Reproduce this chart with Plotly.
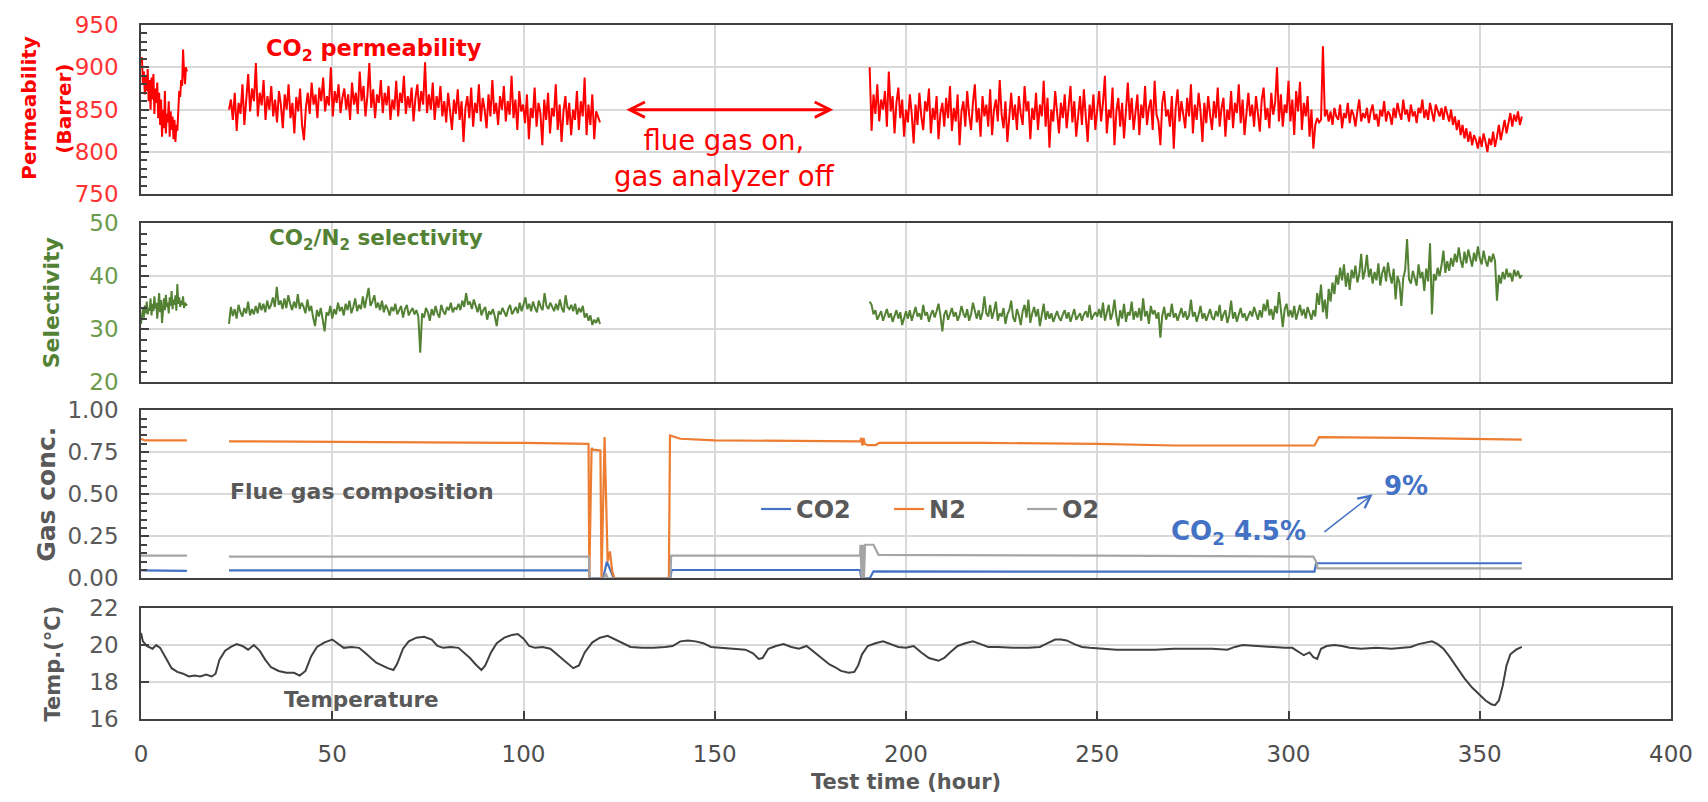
import numpy as np
import plotly.graph_objects as go

# ---------------- data ----------------
# CO2 permeability (Barrer), three measured segments (start h, end h, values)
perm_a_span = (0.0, 12.0)
perm_a = [905, 912, 880, 895, 868, 890, 872, 898, 860, 885, 850, 888, 862, 892, 845, 875, 858, 882,
          840, 870, 832, 862, 818, 850, 828, 872, 822, 845, 835, 860, 818, 848, 826, 842, 815, 838,
          812, 832, 825, 858, 872, 865, 885, 878, 921, 895, 880, 900, 895]
perm_b_span = (23.0, 120.0)
perm_b = [850, 862, 838, 870, 825, 858, 845, 880, 832, 868, 892, 848, 875, 860, 905, 842, 870, 855, 885, 838,
          866, 850, 878, 842, 862, 835, 872, 856, 828, 868, 850, 880, 840, 858, 822, 865, 848, 875, 832, 814,
          852, 870, 845, 882, 856, 868, 840, 876, 860, 888, 848, 866, 855, 900, 842, 872, 858, 880, 846, 864,
          875, 850, 868, 838, 882, 856, 870, 845, 895, 860, 878, 842, 866, 905, 852, 874, 840, 868, 858, 885,
          846, 870, 855, 878, 838, 862, 850, 884, 842, 870, 858, 890, 845, 866, 852, 876, 836, 864, 880, 848,
          872, 856, 906, 846, 868, 850, 882, 838, 866, 852, 878, 842, 860, 835, 870, 848, 826, 862, 845, 874,
          838, 860, 812, 852, 866, 840, 876, 830, 858, 846, 880, 836, 864, 850, 828, 868, 842, 885, 845, 858,
          832, 866, 850, 878, 836, 860, 844, 890, 840, 862, 826, 872, 848, 856, 834, 868, 815, 852, 840, 876,
          830, 858, 846, 808, 862, 838, 870, 822, 852, 842, 880, 826, 856, 812, 848, 866, 832, 858, 820, 850,
          838, 872, 826, 860, 842, 888, 820, 856, 832, 868, 815, 848, 840, 835]
perm_c_span = (190.5, 361.0)
perm_c = [900, 825, 868, 845, 880, 836, 862, 850, 872, 830, 895, 848, 866, 822, 858, 876, 840, 862, 818, 850,
          835, 868, 845, 810, 856, 832, 870, 842, 826, 860, 848, 875, 822, 852, 838, 866, 815, 846, 858, 830,
          864, 840, 878, 825, 852, 836, 868, 808, 848, 860, 830, 872, 844, 826, 858, 880, 835, 852, 818, 866,
          842, 856, 830, 874, 820, 850, 862, 836, 885, 844, 828, 860, 812, 848, 870, 838, 856, 826, 866, 845,
          832, 878, 848, 860, 815, 852, 838, 870, 826, 856, 842, 884, 830, 864, 805, 850, 836, 872, 846, 822,
          858, 840, 868, 828, 852, 878, 835, 860, 818, 846, 866, 832, 874, 842, 812, 856, 838, 868, 826, 850,
          872, 836, 858, 890, 822, 850, 840, 876, 808, 848, 864, 830, 858, 816, 852, 882, 838, 864, 826, 846,
          868, 820, 856, 840, 878, 832, 852, 862, 826, 884, 844, 836, 808, 858, 872, 842, 850, 830, 866, 804,
          852, 874, 836, 860, 846, 828, 864, 842, 880, 822, 856, 838, 870, 848, 812, 858, 834, 866, 844, 826,
          860, 840, 876, 830, 852, 864, 818, 850, 838, 872, 828, 858, 846, 880, 834, 862, 820, 850, 870, 842,
          856, 830, 866, 846, 824, 862, 876, 838, 852, 828, 870, 844, 858, 900, 836, 868, 830, 856, 846, 884,
          836, 862, 820, 872, 848, 883, 826, 858, 842, 866, 818, 850, 804, 832, 840, 835, 838, 925, 842, 850,
          836, 848, 832, 852, 842, 838, 856, 828, 846, 840, 858, 834, 850, 844, 830, 848, 862, 836, 846, 840,
          852, 834, 848, 856, 838, 845, 830, 850, 842, 860, 836, 848, 844, 832, 852, 840, 858, 846, 838, 862,
          844, 850, 836, 856, 842, 848, 834, 852, 846, 862, 840, 850, 838, 858, 846, 836, 856, 848, 842, 852,
          838, 854, 846, 836, 850, 832, 842, 826, 838, 820, 832, 816, 828, 812, 824, 808, 820, 814, 804, 818,
          806, 822, 812, 800, 816, 808, 824, 806, 818, 832, 814, 828, 838, 822, 836, 846, 830, 844, 836, 848,
          832, 842]

# CO2/N2 selectivity
sel_a_span = (0.0, 12.0)
sel_a = [31.0, 32.5, 33.8, 32.2, 34.5, 33.0, 35.2, 32.8, 34.0, 33.5, 35.8, 32.6, 34.8, 33.4, 36.2, 33.9,
         35.0, 32.0, 34.6, 36.8, 33.2, 35.5, 31.2, 34.0, 35.8, 33.6, 36.5, 34.2, 35.0, 33.0, 36.0, 34.4,
         37.2, 33.8, 35.6, 34.6, 36.4, 33.5, 38.5, 34.8, 36.0, 34.2, 35.4, 34.6, 36.2, 34.0, 35.0, 34.5, 34.8]
sel_b_span = (23.0, 120.0)
sel_b = [31.0, 34.2, 32.5, 33.8, 32.0, 34.6, 33.2, 32.4, 34.0, 33.0, 35.2, 32.6, 33.8, 32.8, 34.4, 33.0, 35.0, 33.6, 34.8, 33.2,
         35.4, 33.8, 34.6, 36.0, 34.2, 38.0, 34.6, 35.4, 33.8, 35.8, 34.0, 36.4, 34.8, 33.6, 35.2, 34.0, 36.6, 33.8, 35.0, 34.2,
         33.0, 35.6, 33.4, 34.4, 32.2, 30.6, 33.6, 32.4, 34.0, 31.8, 29.6, 33.2, 32.6, 34.4, 32.0, 33.8, 32.8, 35.0, 33.4, 34.2,
         32.6, 34.8, 33.6, 35.4, 33.0, 34.2, 35.8, 33.4, 34.6, 33.8, 36.2, 34.0, 35.6, 37.8, 34.4, 35.2, 36.4, 34.0, 35.0, 33.6,
         35.4, 33.2, 34.6, 33.8, 32.6, 34.2, 33.4, 34.8, 32.8, 33.6, 34.4, 32.2, 33.8, 34.6, 32.6, 33.4, 34.0, 32.8, 33.6, 32.4,
         25.6, 33.0, 32.2, 34.0, 33.2, 31.6, 33.8, 32.6, 34.4, 33.0, 32.2, 34.6, 33.4, 32.8, 34.2, 33.6, 35.0, 33.2, 34.0, 33.8,
         34.8, 33.6, 35.4, 34.2, 36.8, 34.6, 35.2, 33.8, 35.6, 34.4, 33.2, 34.8, 32.6, 33.6, 34.2, 31.8, 33.4, 32.8, 33.8, 32.4,
         30.6, 33.4, 32.8, 34.0, 33.2, 32.4, 33.8, 34.6, 32.8, 33.6, 34.2, 33.0, 35.0, 33.4, 34.6, 36.0, 33.8, 34.8, 33.4, 35.2,
         34.0, 33.2, 35.4, 34.2, 33.6, 36.8, 34.4, 33.8, 35.0, 34.2, 33.4, 34.8, 33.6, 35.6, 34.0, 33.2, 36.4, 34.2, 33.8, 34.6,
         33.4, 34.8, 32.8, 34.0, 33.2, 34.4, 32.2, 33.0, 31.6, 32.6, 30.8, 31.8, 31.2, 32.2, 31.0]
sel_c_span = (190.5, 361.0)
sel_c = [35.2, 34.6, 32.8, 33.6, 31.8, 32.6, 33.4, 31.6, 32.9, 33.8, 32.2, 33.0, 31.4, 32.6, 33.6, 32.0, 33.2, 30.8, 32.4, 33.4,
         32.0, 33.6, 31.6, 32.8, 34.2, 32.4, 33.0, 31.8, 34.6, 32.6, 33.2, 31.4, 32.8, 33.6, 32.2, 33.4, 34.8, 32.6, 29.6, 32.8,
         33.6, 31.8, 32.8, 34.0, 32.4, 33.2, 31.6, 32.6, 34.4, 33.0, 32.2, 33.8, 31.6, 32.8, 35.0, 33.2, 32.0, 33.6, 31.8, 33.2,
         36.2, 33.0, 32.4, 34.6, 32.0, 33.4, 35.2, 31.6, 33.0, 32.4, 34.0, 31.0, 32.8, 33.6, 35.4, 32.2, 31.4, 33.8, 32.6, 30.8,
         33.4, 34.6, 32.2, 35.6, 31.2, 33.0, 34.2, 32.4, 33.8, 30.6, 32.6, 34.8, 31.8, 33.4, 32.0, 33.0, 31.4, 32.6, 33.4, 32.2,
         31.6, 32.8, 33.6, 32.0, 33.2, 31.4, 32.6, 33.8, 31.8, 32.4, 33.0, 31.6, 32.8, 33.4, 32.2, 34.6, 31.8, 32.6, 33.2, 32.4,
         33.8, 32.2, 35.0, 31.6, 33.2, 34.6, 31.8, 33.0, 35.6, 32.4, 30.6, 33.6, 32.0, 34.8, 31.4, 33.2, 32.6, 35.2, 31.8, 33.4,
         32.2, 34.0, 31.6, 35.8, 32.4, 33.4, 31.0, 34.4, 32.8, 33.6, 32.0, 33.2, 28.4, 32.6, 34.2, 31.8, 33.0, 32.4, 34.8, 32.2,
         33.0, 31.6, 32.8, 34.0, 32.2, 33.4, 31.8, 32.6, 35.6, 32.4, 33.2, 31.4, 32.8, 34.4, 32.0, 33.0, 31.6, 32.6, 33.8, 32.2,
         31.8, 33.4, 32.4, 34.6, 31.6, 32.8, 33.6, 31.2, 32.6, 35.4, 32.0, 33.2, 31.4, 32.8, 34.0, 32.2, 33.0, 31.6, 32.6, 33.4,
         32.4, 34.2, 33.0, 31.8, 33.6, 32.2, 34.8, 33.4, 35.6, 32.6, 33.8, 31.8, 34.4, 33.0, 37.0, 33.6, 30.4, 33.8, 34.8, 32.4,
         33.6, 32.2, 34.4, 31.8, 33.2, 34.6, 32.6, 33.8, 32.0, 34.2, 33.0, 31.8, 33.6, 32.4, 36.8, 34.6, 38.4, 33.2, 35.6, 32.0,
         37.6, 35.2, 38.8, 36.6, 40.2, 38.4, 41.6, 39.2, 42.2, 38.0, 40.6, 37.4, 41.2, 39.6, 42.0, 38.8, 40.4, 44.2, 39.4, 41.0,
         44.0, 39.8, 41.4, 38.6, 40.8, 39.2, 42.4, 38.2, 40.6, 41.8, 39.0, 42.6, 40.2, 38.6, 41.4, 35.6, 40.0, 38.8, 34.4, 39.6,
         41.2, 47.0, 39.4, 38.6, 41.0, 39.8, 38.2, 42.2, 39.6, 40.8, 37.2, 41.4, 39.0, 46.2, 32.8, 40.4, 39.2, 41.6, 40.0, 42.0,
         44.8, 40.6, 42.8, 41.0, 43.4, 41.8, 44.2, 42.6, 45.4, 43.0, 41.6, 44.6, 42.4, 45.0, 43.2, 41.8, 44.4, 42.8, 45.6, 43.4,
         42.2, 44.8, 43.0, 41.8, 43.8, 42.6, 44.2, 42.8, 35.4, 40.2, 38.6, 40.8, 39.4, 41.4, 39.8, 40.6, 39.0, 41.2, 40.0, 41.0,
         39.6, 40.2]

# Flue gas composition (mole fraction); None = analyzer gap
co2_time = [0, 12, None, 23, 117.1, 117.3, 120.8, 121.8, 122.6, 123.6, 138.4, 138.7,
            188.0, 188.3, 190.5, 191.5, 250, 306.8, 307.2, 361]
co2_conc = [0.048, 0.045, None, 0.048, 0.048, 0.0, 0.0, 0.10, 0.05, 0.0, 0.0, 0.05,
            0.05, 0.0, 0.0, 0.042, 0.04, 0.04, 0.09, 0.09]
n2_time = [0, 1, 12, None, 23, 60, 100, 117.0, 117.2, 117.8, 118.2, 120.1, 120.4, 121.2, 122.0,
           122.6, 123.2, 123.8, 138.0, 138.3, 141, 150, 188.0, 188.3, 188.6, 188.9, 189.2,
           190.0, 192.0, 193.0, 220, 250, 270, 306.8, 307.3, 308, 330, 361]
n2_conc = [0.83, 0.82, 0.82, None, 0.815, 0.812, 0.805, 0.80, 0.0, 0.775, 0.765, 0.76, 0.0, 0.84, 0.10,
           0.16, 0.04, 0.0, 0.0, 0.85, 0.83, 0.82, 0.815, 0.835, 0.79, 0.835, 0.80,
           0.792, 0.792, 0.805, 0.805, 0.80, 0.79, 0.79, 0.815, 0.84, 0.835, 0.825]
o2_time = [0, 12, None, 23, 117.1, 117.3, 121.0, 121.5, 122.0, 138.4, 138.6, 188.0, 188.1, 188.4,
           188.7, 189.0, 189.3, 191.5, 192.8, 250, 306.5, 307.2, 307.6, 361]
o2_conc = [0.135, 0.135, None, 0.13, 0.13, 0.0, 0.0, 0.03, 0.0, 0.0, 0.135, 0.135, 0.20, 0.0,
           0.20, 0.0, 0.20, 0.20, 0.14, 0.135, 0.13, 0.10, 0.06, 0.06]

# Temperature (deg C)
temp_time = [0, 0.5, 1.5, 3, 4, 5, 6.5, 8, 9.5, 11, 12.5, 14, 15.5, 17, 18.5, 19.5, 20.5, 22, 23.5, 25,
             26.5, 28, 29.5, 31, 32.5, 34, 36, 38, 40, 41.5, 43, 44.5, 46, 48, 50, 51.5, 53, 55, 57, 58.5,
             60, 61.5, 63, 64.5, 66, 67, 68.5, 70, 72, 74, 76, 77.5, 79, 81, 83, 84.5, 86, 87.5, 89, 90,
             91.5, 93, 95, 97, 98.5, 100, 101.5, 103, 105, 107, 108.5, 110, 111.5, 113, 114.5, 116, 118, 120, 122, 124,
             126, 128, 131, 134, 137, 139, 141, 143, 145, 147, 149, 152, 155, 158, 160, 161.5, 162.5, 164, 166, 168,
             170, 172, 174, 176, 178, 180, 181.5, 183, 185, 186.5, 187.5, 188.5, 190, 192, 194, 196, 198, 200, 202, 204,
             206, 208.5, 210, 211.5, 213.5, 215.5, 217.5, 219.5, 221.5, 224, 228, 232, 235, 237, 239, 240.5, 242, 244, 246, 248,
             251, 255, 260, 265, 270, 275, 280, 284, 286, 288, 291, 295, 299, 301, 302.5, 304, 305.5, 306.5, 307.5, 308.5,
             310, 312, 314, 316, 319, 323, 327, 330, 332, 334, 336, 337.5, 339, 340.5, 342, 344, 346, 348, 350, 351.5,
             353, 354, 355, 356, 357, 358, 359.5, 361]
temp_val = [20.65, 20.2, 19.95, 19.8, 20.0, 19.85, 19.3, 18.75, 18.55, 18.45, 18.3, 18.35, 18.3, 18.4, 18.3, 18.45, 19.2, 19.7, 19.9, 20.05,
            19.95, 19.75, 20.0, 19.7, 19.2, 18.8, 18.6, 18.5, 18.5, 18.35, 18.6, 19.4, 19.9, 20.15, 20.3, 20.05, 19.85, 19.9, 19.85, 19.6,
            19.35, 19.05, 18.9, 18.75, 18.65, 19.0, 19.8, 20.2, 20.4, 20.45, 20.3, 19.95, 19.85, 19.9, 19.85, 19.6, 19.3, 18.95, 18.65, 18.9,
            19.6, 20.1, 20.4, 20.55, 20.6, 20.35, 19.95, 19.85, 19.9, 19.8, 19.55, 19.25, 19.0, 18.75, 18.9, 19.6, 20.15, 20.4, 20.5, 20.3,
            20.1, 19.9, 19.85, 19.85, 19.9, 19.95, 20.2, 20.25, 20.2, 20.1, 19.9, 19.85, 19.8, 19.75, 19.55, 19.25, 19.3, 19.8, 19.95, 20.05,
            19.9, 19.8, 19.95, 19.6, 19.3, 18.95, 18.8, 18.6, 18.5, 18.55, 18.9, 19.5, 19.95, 20.1, 20.2, 20.05, 19.9, 19.85, 19.95, 19.6,
            19.3, 19.15, 19.3, 19.6, 19.95, 20.1, 20.2, 20.05, 19.9, 19.9, 19.85, 19.85, 19.9, 20.1, 20.3, 20.3, 20.25, 20.05, 19.9, 19.85,
            19.8, 19.75, 19.75, 19.75, 19.8, 19.8, 19.8, 19.75, 19.9, 20.0, 19.95, 19.9, 19.85, 19.85, 19.65, 19.45, 19.6, 19.35, 19.25, 19.8,
            19.95, 20.0, 19.95, 19.85, 19.8, 19.85, 19.8, 19.85, 19.9, 20.05, 20.15, 20.2, 20.05, 19.8, 19.4, 18.8, 18.2, 17.7, 17.3, 17.0,
            16.8, 16.75, 17.0, 17.8, 18.9, 19.5, 19.75, 19.9]

x_ticks = [0, 50, 100, 150, 200, 250, 300, 350, 400]


def join_segments(segments):
    xs, ys = [], []
    for (t0, t1), vals in segments:
        xs += list(np.linspace(t0, t1, len(vals)))
        ys += list(vals)
        xs.append(None)
        ys.append(None)
    return xs, ys


perm_x, perm_y = join_segments([(perm_a_span, perm_a), (perm_b_span, perm_b), (perm_c_span, perm_c)])
sel_x, sel_y = join_segments([(sel_a_span, sel_a), (sel_b_span, sel_b), (sel_c_span, sel_c)])

# ---------------- styles ----------------
FONT = "DejaVu Sans"
RED = "#FF0000"
GREEN = "#548235"
BLUE = "#4472C4"
ORANGE = "#ED7D31"
GRAY = "#A5A5A5"
DARK = "#595959"
GRID = "#D9D9D9"
FRAME = "#404040"

fig = go.Figure()
fig.add_trace(go.Scatter(x=perm_x, y=perm_y, mode="lines", line=dict(color=RED, width=2),
                         xaxis="x", yaxis="y", showlegend=False, name="CO2 permeability"))
fig.add_trace(go.Scatter(x=sel_x, y=sel_y, mode="lines", line=dict(color=GREEN, width=2),
                         xaxis="x2", yaxis="y2", showlegend=False, name="CO2/N2 selectivity"))
fig.add_trace(go.Scatter(x=co2_time, y=co2_conc, mode="lines", line=dict(color=BLUE, width=2.2),
                         xaxis="x3", yaxis="y3", name="CO2"))
fig.add_trace(go.Scatter(x=n2_time, y=n2_conc, mode="lines", line=dict(color=ORANGE, width=2.2),
                         xaxis="x3", yaxis="y3", name="N2"))
fig.add_trace(go.Scatter(x=o2_time, y=o2_conc, mode="lines", line=dict(color=GRAY, width=2.2),
                         xaxis="x3", yaxis="y3", name="O2"))
fig.add_trace(go.Scatter(x=temp_time, y=temp_val, mode="lines", line=dict(color=FRAME, width=2),
                         xaxis="x4", yaxis="y4", showlegend=False, name="Temperature"))

common_x = dict(range=[0, 400], tickvals=x_ticks, showgrid=True, gridcolor=GRID, gridwidth=1.5,
                showline=True, mirror=True, linecolor=FRAME, linewidth=1.5, zeroline=False)
common_y = dict(showgrid=True, gridcolor=GRID, gridwidth=1.5, showline=True, mirror=True,
                linecolor=FRAME, linewidth=1.5, zeroline=False, ticks="inside", ticklen=8,
                tickcolor=FRAME, tickwidth=1.5, ticklabelstandoff=16)

doms = {"y": [0.756, 1.0], "y2": [0.485, 0.7147], "y3": [0.2026, 0.445], "y4": [0.0, 0.1598]}

fig.update_layout(
    width=1708, height=802,
    margin=dict(l=141, r=37, t=19, b=82),
    paper_bgcolor="white", plot_bgcolor="white",
    font=dict(family=FONT, color=DARK),
    xaxis=dict(common_x, anchor="y", showticklabels=False),
    xaxis2=dict(common_x, anchor="y2", matches="x", showticklabels=False),
    xaxis3=dict(common_x, anchor="y3", matches="x", showticklabels=False),
    xaxis4=dict(common_x, anchor="y4", matches="x", ticks="inside", ticklen=8, tickcolor=FRAME,
                tickwidth=1.5, ticklabelstandoff=14,
                tickfont=dict(family=FONT, size=23, color="#4D4D4D"),
                title=dict(text="Test time (hour)", standoff=8,
                           font=dict(family=FONT, size=21, color=DARK, weight="bold"))),
    yaxis=dict(common_y, domain=doms["y"], anchor="x", range=[750, 950], dtick=50,
               minor=dict(ticks="inside", dtick=10, ticklen=6, tickcolor=FRAME, showgrid=False),
               tickfont=dict(family=FONT, size=23, color="#FF3333")),
    yaxis2=dict(common_y, domain=doms["y2"], anchor="x2", range=[20, 50], dtick=10,
                minor=dict(ticks="inside", dtick=2, ticklen=6, tickcolor=FRAME, showgrid=False),
                tickfont=dict(family=FONT, size=23, color="#6B9B4B"),
                title=dict(text="Selectivity", standoff=24,
                           font=dict(family=FONT, size=22, color=GREEN, weight="bold"))),
    yaxis3=dict(common_y, domain=doms["y3"], anchor="x3", range=[0, 1], dtick=0.25, tickformat=".2f",
                minor=dict(ticks="inside", dtick=0.05, ticklen=6, tickcolor=FRAME, showgrid=False),
                tickfont=dict(family=FONT, size=23, color=DARK),
                title=dict(text="Gas conc.", standoff=5,
                           font=dict(family=FONT, size=25, color=DARK, weight="bold"))),
    yaxis4=dict(common_y, domain=doms["y4"], anchor="x4", range=[16, 22], dtick=2,
                tickfont=dict(family=FONT, size=23, color=DARK),
                title=dict(text="Temp.(°C)", standoff=23,
                           font=dict(family=FONT, size=21, color=DARK, weight="bold"))),
    legend=dict(orientation="h", x=0.402, xanchor="left", y=0.302, yanchor="middle",
                bgcolor="rgba(0,0,0,0)", itemwidth=30, entrywidth=88,
                font=dict(family=FONT, size=24, color=DARK, weight="bold")),
)

annotations = [
    # permeability axis title (two lines with wide spacing)
    dict(text="<b>Permeability</b>", x=-0.0732, y=0.8795, xref="paper", yref="paper", textangle=-90,
         xanchor="center", yanchor="middle", showarrow=False, font=dict(family=FONT, size=20, color=RED)),
    dict(text="<b>(Barrer)</b>", x=-0.0503, y=0.8795, xref="paper", yref="paper", textangle=-90,
         xanchor="center", yanchor="middle", showarrow=False, font=dict(family=FONT, size=20, color=RED)),
    dict(text="<b>CO<sub>2</sub> permeability</b>", x=61, y=920, xref="x", yref="y", showarrow=False,
         font=dict(family=FONT, size=22.5, color=RED)),
    dict(text="flue gas on,<br>gas analyzer off", x=152.5, y=793, xref="x", yref="y", showarrow=False,
         font=dict(family=FONT, size=27.5, color=RED)),
    dict(text="", x=181, y=850, ax=126.5, ay=850, xref="x", yref="y", axref="x", ayref="y",
         showarrow=True, arrowside="end+start", arrowhead=5, startarrowhead=5, arrowsize=1,
         startarrowsize=1, arrowwidth=3, arrowcolor=RED, standoff=0, startstandoff=0),
    dict(text="<b>CO<sub>2</sub>/N<sub>2</sub> selectivity</b>", x=61.5, y=46.8, xref="x2", yref="y2",
         showarrow=False, font=dict(family=FONT, size=21.5, color=GREEN)),
    dict(text="<b>Flue gas composition</b>", x=57.7, y=0.518, xref="x3", yref="y3", showarrow=False,
         font=dict(family=FONT, size=22, color=DARK)),
    dict(text="<b>CO<sub>2</sub> 4.5%</b>", x=286.8, y=0.27, xref="x3", yref="y3", showarrow=False,
         font=dict(family=FONT, size=26, color=BLUE)),
    dict(text="<b>9%</b>", x=330.8, y=0.55, xref="x3", yref="y3", showarrow=False,
         font=dict(family=FONT, size=26, color=BLUE)),
    dict(text="", x=322, y=0.50, ax=309, ay=0.27, xref="x3", yref="y3", axref="x3", ayref="y3",
         showarrow=True, arrowhead=5, arrowsize=1.6, arrowwidth=1.5, arrowcolor=BLUE, standoff=0),
    dict(text="<b>Temperature</b>", x=57.7, y=17.07, xref="x4", yref="y4", showarrow=False,
         font=dict(family=FONT, size=21.5, color=DARK)),
]
fig.update_layout(annotations=annotations)

fig.write_html("out.html")
